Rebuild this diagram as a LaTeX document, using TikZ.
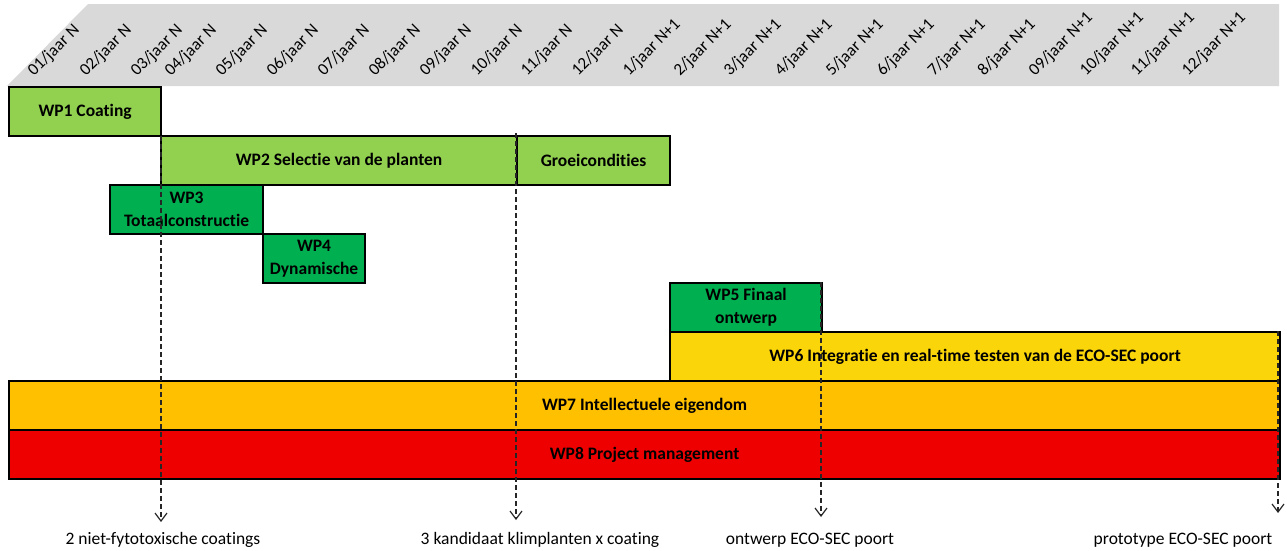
\documentclass[tikz,border=0pt]{standalone}
\usepackage{fontspec}
\setmainfont{Carlito}[Ligatures={NoCommon,NoRequired}]
\usepackage{tikz}
\usetikzlibrary{arrows.meta}
\usepackage{xcolor}
\definecolor{hdrgray}{HTML}{D9D9D9}
\definecolor{wplight}{HTML}{92D050}
\definecolor{wpgreen}{HTML}{00B050}
\definecolor{wpyellow}{HTML}{FAD50A}
\definecolor{wporange}{HTML}{FFC000}
\definecolor{wpred}{HTML}{EE0000}

\begin{document}
\begin{tikzpicture}[%
    x=1pt, y=-1pt,
    wp/.style={rectangle, draw=black, line width=2.2pt, anchor=north west, inner sep=0pt,
      minimum height=49pt, align=center, font=\fontsize{17.5}{23}\selectfont\bfseries},
    month/.style={rotate=45, anchor=base west, inner sep=0pt, font=\fontsize{17}{20}\selectfont},
    deliv/.style={anchor=base, inner sep=0pt, font=\fontsize{17.5}{20}\selectfont},
    milestone/.style={-{Straight Barb[length=8pt, width=12pt]}, dash pattern=on 5pt off 3pt,
      line width=1.2pt, black!85},
  ]
  \useasboundingbox (0,0) rectangle (1287,550);

  % --- Header ---
  \fill[hdrgray] (7,86) -- (88,4) -- (1279,4) -- (1279,86) -- cycle;
  \node[month] (m01) at (34,77) {01/jaar N};
  \node[month] (m02) at (86,77) {02/jaar N};
  \node[month] (m03) at (137,77) {03/jaar N};
  \node[month] (m04) at (171,77) {04/jaar N};
  \node[month] (m05) at (222,77) {05/jaar N};
  \node[month] (m06) at (273,77) {06/jaar N};
  \node[month] (m07) at (324,77) {07/jaar N};
  \node[month] (m08) at (375,77) {08/jaar N};
  \node[month] (m09) at (426,77) {09/jaar N};
  \node[month] (m10) at (477,77) {10/jaar N};
  \node[month] (m11) at (527,77) {11/jaar N};
  \node[month] (m12) at (578,77) {12/jaar N};
  \node[month] (n01) at (629,77) {1/jaar N+1};
  \node[month] (n02) at (680,77) {2/jaar N+1};
  \node[month] (n03) at (730,77) {3/jaar N+1};
  \node[month] (n04) at (781,77) {4/jaar N+1};
  \node[month] (n05) at (832,77) {5/jaar N+1};
  \node[month] (n06) at (883,77) {6/jaar N+1};
  \node[month] (n07) at (934,77) {7/jaar N+1};
  \node[month] (n08) at (984,77) {8/jaar N+1};
  \node[month] (n09) at (1035,77) {09/jaar N+1};
  \node[month] (n10) at (1086,77) {10/jaar N+1};
  \node[month] (n11) at (1137,77) {11/jaar N+1};
  \node[month] (n12) at (1188,77) {12/jaar N+1};

  % --- Work packages ---
  \node[wp, fill=wplight, minimum width=152pt] (wp1) at (8,86) {WP1 Coating};
  \node[wp, fill=wplight, minimum width=356pt] (wp2) at (160,135) {WP2 Selectie van de planten};
  \node[wp, fill=wplight, minimum width=153pt] (groei) at (516,135) {Groeicondities};
  \node[wp, fill=wpgreen, minimum width=153pt] (wp3) at (109,184) {WP3\\Totaalconstructie};
  \node[wp, fill=wpgreen, minimum width=102pt] (wp4) at (262,233) {WP4\\Dynamische};
  \node[wp, fill=wpgreen, minimum width=152pt] (wp5) at (669,282) {WP5 Finaal\\ontwerp};
  \node[wp, fill=wpyellow, minimum width=610pt] (wp6) at (669,331) {WP6 Integratie en real-time testen van de ECO-SEC poort};
  \node[wp, fill=wporange, minimum width=1271pt] (wp7) at (8,380) {WP7 Intellectuele eigendom};
  \node[wp, fill=wpred, minimum width=1271pt] (wp8) at (8,429) {WP8 Project management};

  % --- Deliverables ---
  \coordinate (d1top) at (161,136);
  \coordinate (d1end) at (161,522);
  \coordinate (d2top) at (516,133);
  \coordinate (d2end) at (516,520);
  \coordinate (d3top) at (821,282);
  \coordinate (d3end) at (821,517);
  \coordinate (d4top) at (1278,331);
  \coordinate (d4end) at (1278,513);
  \draw[milestone] (d1top) -- (d1end);
  \draw[milestone] (d2top) -- (d2end);
  \draw[milestone] (d3top) -- (d3end);
  \draw[milestone] (d4top) -- (d4end);

  \node[deliv] (del1) at (163,544) {2 niet-fytotoxische coatings};
  \node[deliv] (del2) at (540,544) {3 kandidaat klimplanten x coating};
  \node[deliv] (del3) at (810,544) {ontwerp ECO-SEC poort};
  \node[deliv] (del4) at (1183,544) {prototype ECO-SEC poort};
\end{tikzpicture}
\end{document}
